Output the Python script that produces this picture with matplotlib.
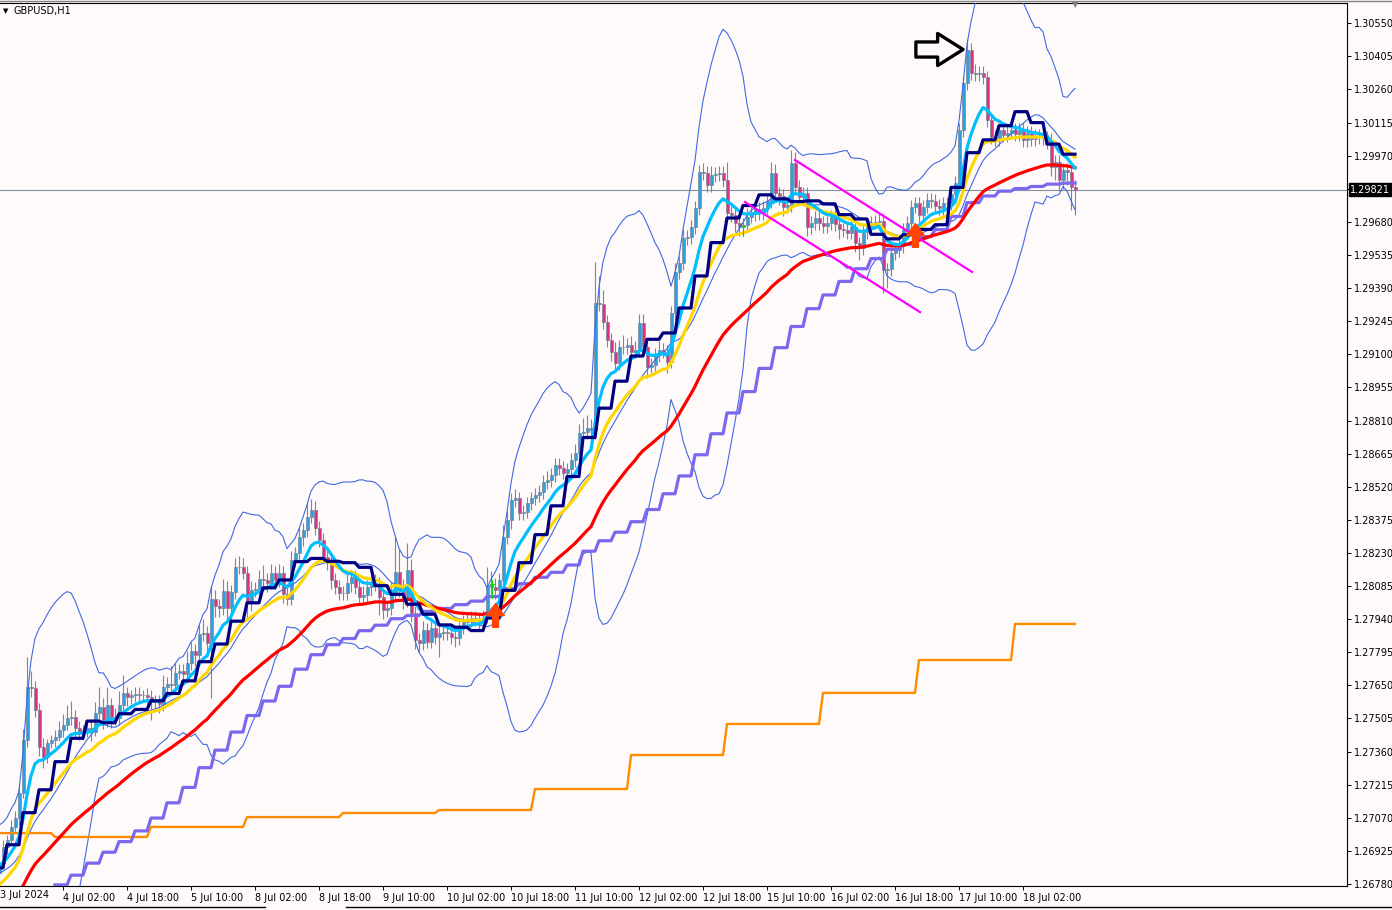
import numpy as np
import pandas as pd
import matplotlib
matplotlib.use("Agg")
import matplotlib.pyplot as plt
import matplotlib.transforms as mtrans
from matplotlib.path import Path

# hourly closes, 3 Jul 10:00 -> 18 Jul 15:00 (GBPUSD H1)
closes = [
    1.26871, 1.26943, 1.26973, 1.27031, 1.27068, 1.27177, 1.27411, 1.27644, 1.27637, 1.27542,
    1.27381, 1.27338, 1.27396, 1.27411, 1.27425, 1.27455, 1.27476, 1.27506, 1.27510, 1.27462,
    1.27440, 1.27455, 1.27462, 1.27447, 1.27528, 1.27554, 1.27498, 1.27564, 1.27513, 1.27506,
    1.27564, 1.27615, 1.27600, 1.27608, 1.27612, 1.27608, 1.27608, 1.27600, 1.27578, 1.27578,
    1.27568, 1.27644, 1.27656, 1.27652, 1.27706, 1.27714, 1.27700, 1.27749, 1.27802, 1.27783,
    1.27875, 1.27881, 1.27834, 1.28028, 1.27998, 1.27990, 1.28065, 1.27987, 1.28060, 1.28167,
    1.28167, 1.28144, 1.28017, 1.28068, 1.28071, 1.28116, 1.28112, 1.28100, 1.28141, 1.28112,
    1.28141, 1.28050, 1.28030, 1.28199, 1.28228, 1.28301, 1.28330, 1.28389, 1.28418, 1.28338,
    1.28287, 1.28214, 1.28185, 1.28112, 1.28082, 1.28053, 1.28056, 1.28097, 1.28126, 1.28082,
    1.28038, 1.28046, 1.28082, 1.28097, 1.28094, 1.28038, 1.27980, 1.27987, 1.28053, 1.28148,
    1.28068, 1.28024, 1.28155, 1.27966, 1.27849, 1.27837, 1.27893, 1.27842, 1.27900, 1.27863,
    1.27878, 1.27885, 1.27880, 1.27863, 1.27856, 1.27907, 1.27929, 1.27936, 1.27944, 1.27940,
    1.27929, 1.27951, 1.28090, 1.28082, 1.28068, 1.28112, 1.28301, 1.28374, 1.28462, 1.28469,
    1.28404, 1.28411, 1.28447, 1.28469, 1.28484, 1.28498, 1.28542, 1.28550, 1.28571, 1.28615,
    1.28601, 1.28582, 1.28596, 1.28637, 1.28666, 1.28754, 1.28761, 1.28776, 1.28769, 1.29323,
    1.29320, 1.29243, 1.29163, 1.29112, 1.29061, 1.29133, 1.29130, 1.29141, 1.29112, 1.29120,
    1.29236, 1.29133, 1.29046, 1.29053, 1.29097, 1.29120, 1.29112, 1.29068, 1.29280, 1.29462,
    1.29499, 1.29608, 1.29613, 1.29659, 1.29740, 1.29900, 1.29893, 1.29842, 1.29885, 1.29890,
    1.29893, 1.29864, 1.29718, 1.29710, 1.29674, 1.29659, 1.29666, 1.29703, 1.29714, 1.29735,
    1.29718, 1.29743, 1.29773, 1.29893, 1.29805, 1.29794, 1.29747, 1.29754, 1.29937, 1.29834,
    1.29790, 1.29805, 1.29659, 1.29674, 1.29696, 1.29674, 1.29662, 1.29674, 1.29700, 1.29670,
    1.29647, 1.29644, 1.29633, 1.29656, 1.29586, 1.29564, 1.29637, 1.29659, 1.29677, 1.29681,
    1.29686, 1.29469, 1.29472, 1.29542, 1.29557, 1.29574, 1.29645, 1.29674, 1.29747, 1.29761,
    1.29710, 1.29747, 1.29776, 1.29773, 1.29750, 1.29740, 1.29761, 1.29761, 1.29802, 1.29849,
    1.30083, 1.30287, 1.30433, 1.30331, 1.30327, 1.30334, 1.30313, 1.30126, 1.30053, 1.30042,
    1.30083, 1.30061, 1.30071, 1.30083, 1.30065, 1.30083, 1.30039, 1.30068, 1.30042, 1.30057,
    1.30052, 1.30047, 1.30031, 1.29922, 1.29944, 1.29864, 1.29907, 1.29900, 1.29834, 1.29821,
]
first_open = 1.26830

# wick lengths in pips above / below the body
up_wick = [
    2, 3, 2, 3, 3, 4, 5, 13, 7, 3,   3, 4, 2, 2, 3, 4, 5, 6, 7, 3,
    3, 2, 3, 4, 5, 9, 4, 8, 3, 4,    6, 8, 3, 2, 3, 3, 2, 3, 3, 3,
    3, 5, 3, 8, 4, 3, 3, 5, 4, 3,    4, 6, 3, 6, 4, 3, 5, 4, 3, 4,
    5, 4, 3, 4, 3, 4, 6, 3, 4, 3,    4, 3, 3, 4, 3, 4, 3, 6, 5, 4,
    3, 3, 3, 4, 3, 3, 3, 4, 3, 3,    3, 4, 3, 3, 4, 3, 3, 3, 5, 15,
    10, 5, 12, 5, 3, 3, 4, 3, 3, 3,  3, 3, 3, 3, 3, 3, 3, 3, 3, 3,
    3, 3, 8, 6, 4, 3, 5, 4, 3, 4,    3, 3, 3, 3, 3, 3, 3, 4, 3, 3,
    3, 3, 3, 3, 4, 4, 6, 6, 4, 18,   12, 6, 3, 3, 4, 3, 5, 3, 4, 4,
    4, 4, 3, 3, 3, 4, 3, 3, 3, 4,    3, 4, 3, 3, 3, 3, 4, 3, 4, 3,
    3, 3, 8, 3, 3, 3, 3, 4, 3, 3,    3, 3, 3, 5, 4, 3, 3, 3, 6, 5,
    3, 3, 3, 3, 3, 3, 3, 3, 3, 3,    3, 3, 3, 3, 3, 3, 3, 3, 3, 3,
    3, 3, 3, 3, 3, 3, 3, 3, 3, 3,    3, 3, 3, 3, 3, 3, 3, 3, 3, 3,
    3, 3, 5, 3, 4, 3, 3, 3, 3, 3,    3, 3, 3, 3, 3, 3, 3, 3, 3, 3,
    3, 3, 3, 4, 3, 3, 3, 3, 3, 3,
]
dn_wick = [
    3, 2, 3, 2, 2, 3, 2, 3, 4, 3,    4, 5, 3, 2, 3, 2, 3, 2, 3, 4,
    3, 3, 3, 4, 2, 3, 4, 3, 5, 3,    3, 3, 4, 3, 3, 3, 3, 4, 8, 3,
    4, 3, 3, 3, 3, 3, 4, 4, 3, 5,    3, 3, 4, 24, 5, 4, 3, 6, 5, 3,
    3, 3, 8, 4, 3, 3, 3, 4, 3, 4,    3, 4, 3, 3, 3, 3, 4, 3, 3, 3,
    3, 3, 3, 4, 3, 3, 3, 3, 4, 3,    3, 3, 3, 4, 3, 8, 4, 3, 3, 3,
    3, 4, 3, 4, 4, 4, 3, 3, 3, 3,    9, 3, 3, 3, 4, 3, 3, 3, 3, 3,
    3, 3, 3, 3, 4, 3, 3, 3, 4, 3,    3, 3, 3, 3, 3, 3, 3, 3, 3, 3,
    3, 3, 3, 3, 3, 3, 3, 3, 3, 4,    3, 3, 3, 4, 3, 3, 3, 3, 3, 3,
    3, 4, 5, 3, 3, 3, 3, 5, 3, 3,    3, 3, 3, 3, 3, 3, 3, 3, 3, 3,
    3, 3, 3, 3, 4, 4, 4, 3, 3, 3,    3, 3, 3, 3, 3, 4, 4, 3, 3, 3,
    3, 4, 4, 3, 3, 3, 3, 3, 3, 3,    4, 3, 3, 3, 4, 5, 3, 3, 3, 3,
    3, 10, 8, 3, 3, 3, 3, 3, 3, 3,   3, 3, 3, 3, 3, 3, 3, 3, 3, 3,
    3, 3, 3, 3, 3, 3, 3, 3, 3, 3,    3, 3, 3, 3, 3, 3, 3, 3, 3, 3,
    3, 3, 3, 4, 6, 5, 4, 6, 10, 11,
]

# history before the first visible bar (for indicator warm-up)
prior_h1_closes = [1.2672, 1.2676, 1.2678, 1.2670, 1.2667, 1.2675, 1.2680, 1.2682, 1.2684, 1.2686,
                   1.2688, 1.2690, 1.2691, 1.2689, 1.2687, 1.2690, 1.2689, 1.2686, 1.2684]
prior_h4_closes = [1.2660, 1.2650, 1.2655, 1.2668, 1.2666, 1.2652, 1.2638, 1.2643, 1.2630, 1.2645,
                   1.2656, 1.2667, 1.2684, 1.2691, 1.2689]
# daily MA value, one per trading day 3 Jul .. 18 Jul
daily_ma = [1.27003, 1.26986, 1.27030, 1.27073, 1.27091, 1.27104, 1.27196,
            1.27345, 1.27481, 1.27617, 1.27761, 1.27919]
seed_fast, seed_mid, seed_slow = 1.26859, 1.26776, 1.26680

price_ticks = [round(1.26780 + 0.00145 * k, 5) for k in range(27)]
time_labels = ["3 Jul 2024", "4 Jul 02:00", "4 Jul 18:00", "5 Jul 10:00", "8 Jul 02:00",
               "8 Jul 18:00", "9 Jul 10:00", "10 Jul 02:00", "10 Jul 18:00", "11 Jul 10:00",
               "12 Jul 02:00", "12 Jul 18:00", "15 Jul 10:00", "16 Jul 02:00", "16 Jul 18:00",
               "17 Jul 10:00", "18 Jul 02:00"]
last_price = 1.29821
channel_a = ([199.0, 243.25], [1.29951, 1.29461])
channel_b = ([186.5, 230.25], [1.29767, 1.29285])
buy_arrows = ([124.0, 229.0], [1.27958, 1.29623])
pointer = (234.9, 1.30437)
green_marks = [(123.25, 1.28033, 1.28112), (186.0, 1.29618, 1.29680)]

BG = "#FFFAFA"
PX = 0.0000438  # price per pixel

c = np.array(closes)
n = len(c)
idx = np.arange(n)
o = np.concatenate([[first_open], c[:-1]])
hi = np.maximum(o, c) + np.array(up_wick) * 0.0001
lo = np.minimum(o, c) - np.array(dn_wick) * 0.0001


def ema(vals, period, seed):
    a = 2.0 / (period + 1)
    out = [seed]
    for v in vals[1:]:
        out.append(out[-1] + a * (v - out[-1]))
    return np.array(out)


fast = ema(c, 10, seed_fast)
mid = ema(c, 20, seed_mid)
slow = ema(c, 50, seed_slow)

s = pd.Series(prior_h1_closes + closes)
bb_mid = s.rolling(20).mean().values[-n:]
bb_sd = s.rolling(20).std(ddof=0).values[-n:]
bb_up = bb_mid + 3 * bb_sd
bb_lo = bb_mid - 3 * bb_sd

# H4 closes, bars start at 00/04/08.. hours; bar k holds H1 bars 4k-2..4k+1
h4_of_bar = (idx + 2) // 4
nh4 = h4_of_bar[-1] + 1
h4_close = np.array([c[min(4 * k + 1, n - 1)] for k in range(nh4)])
h4_all = pd.Series(list(prior_h4_closes) + list(h4_close))
npr = len(prior_h4_closes)
h4_fast = h4_all.rolling(5).mean().values[npr:]
h4_slow = h4_all.rolling(20).mean().values[npr:]
navy = h4_fast[h4_of_bar]
purple = h4_slow[h4_of_bar]

day_of_bar = (idx + 10) // 24
orange = np.array(daily_ma)[day_of_bar]

fig = plt.figure(figsize=(13.92, 9.10), dpi=100, facecolor=BG)
ax = fig.add_axes([0, 24 / 910, 1347 / 1392, 883 / 910], facecolor=BG)
ax.set_xlim(0.25, 337)
ax.set_ylim(1.2678 - 2 * PX, 1.2678 + 881 * PX)

# candles
wick_col = "#778899"
bull = c >= o
ax.vlines(idx, lo, hi, color=wick_col, lw=0.8, zorder=2)
body_lo = np.minimum(o, c)
body_h = np.maximum(np.abs(c - o), 0.00002)
ax.bar(idx, body_h, bottom=body_lo, width=0.75,
       color=np.where(bull, "#2E9FE0", "#E0307F"), edgecolor=wick_col, lw=0.5, zorder=3)

# indicators
ax.plot(idx, bb_up, color="#4169E1", lw=0.8, zorder=4)
ax.plot(idx, bb_lo, color="#4169E1", lw=0.8, zorder=4)
ax.plot(idx, bb_mid, color="#4169E1", lw=0.8, zorder=4)
ax.plot(idx, orange, color="#FF8C00", lw=1.7, zorder=5)
ax.plot(idx, purple, color="#7B68EE", lw=2.3, zorder=5)
ax.plot(idx, slow, color="#FF0000", lw=2.3, zorder=6)
ax.plot(idx, mid, color="#FFD700", lw=2.3, zorder=6)
ax.plot(idx, fast, color="#00BFFF", lw=2.3, zorder=7)
ax.plot(idx, navy, color="#000080", lw=2.3, zorder=7)

ax.axhline(last_price, color="#8090A0", lw=0.8, zorder=1)

# channel lines
ax.plot(*channel_a, color="#FF00FF", lw=1.6, zorder=8)
ax.plot(*channel_b, color="#FF00FF", lw=1.6, zorder=8)

up_path = Path([(0, 0.5), (0.375, 0.0), (0.125, 0.0), (0.125, -0.5), (-0.125, -0.5),
                (-0.125, 0.0), (-0.375, 0.0), (0, 0.5)], closed=True)
ax.plot(*buy_arrows, ls="none", marker=up_path, markersize=17, color="#FF4500",
        markeredgecolor="#FF4500", zorder=9)

right_path = Path([(-0.5, -0.16), (-0.04, -0.16), (-0.04, -0.34), (0.5, 0.0), (-0.04, 0.34),
                   (-0.04, 0.16), (-0.5, 0.16), (-0.5, -0.16)], closed=True)
ax.plot([pointer[0]], [pointer[1]], ls="none", marker=right_path, markersize=34,
        markerfacecolor=BG, markeredgecolor="black", markeredgewidth=2.4, zorder=9)

for gx, g0, g1 in green_marks:
    ax.plot([gx, gx], [g0, g1], color="#00DD00", lw=0.8, zorder=9)
    ax.plot([gx - 0.5, gx + 0.5], [g1 - 4 * PX, g1 - 4 * PX], color="#00DD00", lw=0.8, zorder=9)

# axes styling
ax.spines["left"].set_visible(False)
for side in ["right", "bottom", "top"]:
    ax.spines[side].set_linewidth(0.8)
    ax.spines[side].set_color("black")

# the grid label that sits under the current-price box is hidden, as in MT4
ax.yaxis.tick_right()
ax.set_yticks(price_ticks)
ax.set_yticklabels(["" if abs(p - last_price) < 0.0007 else f"{p:.5f}" for p in price_ticks])
ax.tick_params(axis="y", direction="out", length=3, width=0.7, pad=2, labelsize=7)

tick_idx = [16 * k for k in range(len(time_labels))]
ax.set_xticks(tick_idx[1:])
ax.set_xticklabels(time_labels[1:], ha="left")
ax.tick_params(axis="x", direction="out", length=3, width=0.7, pad=2, labelsize=7)
btrans = mtrans.blended_transform_factory(ax.transAxes, ax.transAxes)
ax.text(0.0, -0.0045, time_labels[0], transform=btrans, ha="left", va="top",
        fontsize=7, clip_on=False)

ytrans = mtrans.blended_transform_factory(ax.transAxes, ax.transData)
ax.text(1.0 + 3 / 1347, last_price, f"{last_price:.5f}", transform=ytrans, ha="left",
        va="center", fontsize=7, color="white", zorder=10,
        bbox=dict(boxstyle="square,pad=0.15", fc="black", ec="black"))

fig.text(14 / 1392, 1 - 11 / 910, "GBPUSD,H1", fontsize=7, va="center", ha="left")
fig.text(3 / 1392, 1 - 11 / 910, "\u25BC", fontsize=5, va="center", ha="left")
fig.text(1075 / 1392, 1 - 5 / 910, "\u25BC", fontsize=6, va="center", ha="center", color="#808080")

fig.add_artist(plt.Line2D([0, 1], [1 - 1 / 910, 1 - 1 / 910], color="#808080", lw=1))
fig.add_artist(plt.Line2D([0, 265 / 1392], [3 / 910, 3 / 910], color="black", lw=1))
fig.add_artist(plt.Line2D([346 / 1392, 1], [3 / 910, 3 / 910], color="black", lw=1))

fig.savefig("out.png", dpi=100, facecolor=BG)
